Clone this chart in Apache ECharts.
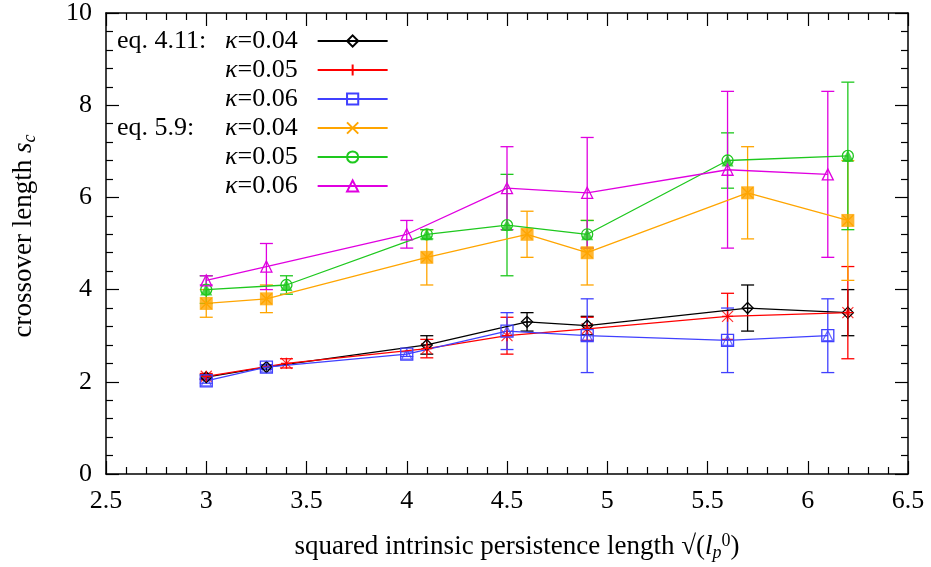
<!DOCTYPE html>
<html>
<head>
<meta charset="utf-8">
<script src="https://cdn.jsdelivr.net/npm/echarts@6/dist/echarts.min.js"></script>
<style>
html,body{margin:0;padding:0;background:#fff;}
#chart{width:931px;height:567px;}
</style>
</head>
<body>
<div id="chart"></div>
<script>
// ---- data ----
const xK04 = [3.0, 3.3, 4.1, 4.6, 4.9, 5.7, 6.2];
const xK05 = [3.0, 3.4, 4.1, 4.5, 4.9, 5.6, 6.2];
const xK06 = [3.0, 3.3, 4.0, 4.5, 4.9, 5.6, 6.1];

const eq411K04 = [2.1, 2.32, 2.8, 3.3, 3.22, 3.6, 3.5];
const eq411K04Err = [0.05, 0.05, 0.2, 0.2, 0.2, 0.5, 0.5];
const eq411K05 = [2.12, 2.4, 2.72, 3.0, 3.15, 3.42, 3.5];
const eq411K05Err = [0.06, 0.1, 0.2, 0.4, 0.25, 0.5, 1.0];
const eq411K06 = [2.02, 2.32, 2.6, 3.1, 3.0, 2.9, 3.0];
const eq411K06Err = [0.05, 0.05, 0.05, 0.4, 0.8, 0.7, 0.8];

const eq59K04 = [3.7, 3.8, 4.7, 5.2, 4.8, 6.1, 5.5];
const eq59K04Err = [0.3, 0.3, 0.6, 0.5, 0.7, 1.0, 1.3];
const eq59K05 = [4.0, 4.1, 5.2, 5.4, 5.2, 6.8, 6.9];
const eq59K05Err = [0.3, 0.2, 0.1, 1.1, 0.3, 0.6, 1.6];
const eq59K06 = [4.2, 4.5, 5.2, 6.2, 6.1, 6.6, 6.5];
const eq59K06Err = [0.1, 0.5, 0.3, 0.9, 1.2, 1.7, 1.8];

const legendPrefix = ['eq. 4.11:', '', '', 'eq. 5.9:', '', ''];
const legendKappa = ['0.04', '0.05', '0.06', '0.04', '0.05', '0.06'];

// ---- styling ----
const FF = '"Liberation Serif", "DejaVu Serif", serif';
const FS = 26;
const PLUS = 'path://M0,5L10,5M5,0L5,10';
const CROSS = 'path://M0,0L10,10M10,0L0,10';

const sets = [
  {id:'s1', x:xK04, y:eq411K04, e:eq411K04Err, color:'#000000', sym:'diamond', size:11, sym2:PLUS, size2:9, fill2:false},
  {id:'s2', x:xK05, y:eq411K05, e:eq411K05Err, color:'#ff0000', sym:PLUS, size:11, sym2:CROSS, size2:11, fill2:false},
  {id:'s3', x:xK06, y:eq411K06, e:eq411K06Err, color:'#4040ff', sym:'rect', size:12, sym2:'triangle', size2:10, fill2:false},
  {id:'s4', x:xK04, y:eq59K04, e:eq59K04Err, color:'#ffa500', sym:CROSS, size:11, sym2:'rect', size2:13, fill2:true},
  {id:'s5', x:xK05, y:eq59K05, e:eq59K05Err, color:'#1ec81e', sym:'circle', size:11, sym2:'triangle', size2:12, fill2:true},
  {id:'s6', x:xK06, y:eq59K06, e:eq59K06Err, color:'#e000e0', sym:'triangle', size:11, sym2:null, size2:0, fill2:false}
];

const series = [];
sets.forEach(function (s, i) {
  const pts = s.x.map(function (xv, k) { return [xv, s.y[k]]; });
  const errs = s.x.map(function (xv, k) { return [xv, s.y[k], s.e[k]]; });
  const c = s.color;
  series.push({
    type: 'custom', silent: true, clip: false, z: 2,
    data: errs, encode: {x: 0, y: 1},
    renderItem: function (params, api) {
      const xv = api.value(0), yv = api.value(1), ev = api.value(2);
      const t = api.coord([xv, yv + ev]);
      const b = api.coord([xv, yv - ev]);
      const w = 6.5;
      const st = {stroke: c, lineWidth: 1.3, fill: null};
      return {type: 'group', children: [
        {type: 'line', shape: {x1: t[0], y1: t[1], x2: b[0], y2: b[1]}, style: st},
        {type: 'line', shape: {x1: t[0] - w, y1: t[1], x2: t[0] + w, y2: t[1]}, style: st},
        {type: 'line', shape: {x1: b[0] - w, y1: b[1], x2: b[0] + w, y2: b[1]}, style: st}
      ]};
    }
  });
  series.push({
    type: 'line', name: s.id, data: pts, silent: true,
    symbol: s.sym, symbolSize: s.size, showAllSymbol: true,
    lineStyle: {color: c, width: 1.3},
    itemStyle: {color: 'rgba(255,255,255,0)', borderColor: c, borderWidth: 1.3},
    animation: false
  });
  if (s.sym2) {
    series.push({
      type: 'scatter', data: pts, silent: true,
      symbol: s.sym2, symbolSize: s.size2,
      itemStyle: s.fill2 ? {color: c, borderWidth: 0} : {color: 'rgba(255,255,255,0)', borderColor: c, borderWidth: 1.2},
      animation: false
    });
  }
});

const axisCommon = {
  type: 'value',
  axisLine: {show: true, onZero: false, lineStyle: {color: '#000', width: 1.5}},
  axisTick: {show: true, inside: true, length: 13, lineStyle: {color: '#000', width: 1.2}},
  minorTick: {show: true, splitNumber: 5, length: 7, lineStyle: {color: '#000', width: 1.2}},
  splitLine: {show: false},
  minorSplitLine: {show: false}
};
const labelStyle = {fontFamily: FF, fontSize: FS, color: '#000'};

const option = {
  animation: false,
  backgroundColor: '#fff',
  grid: {left: 106, right: 23, top: 13, bottom: 93, containLabel: false},
  xAxis: [
    Object.assign({}, axisCommon, {
      min: 2.5, max: 6.5, interval: 0.5, position: 'bottom',
      axisLabel: Object.assign({margin: 14}, labelStyle),
      name: '{t|squared intrinsic persistence length }{t|√(}{i|l}{sub|p}{sup|0}{t|)}',
      nameLocation: 'middle', nameGap: 58,
      nameTextStyle: {fontFamily: FF, fontSize: 27, color: '#000', padding: [0, 0, 0, 20], rich: {
        t: {fontFamily: FF, fontSize: 27, color: '#000', lineHeight: 30},
        i: {fontFamily: FF, fontSize: 27, fontStyle: 'italic', color: '#000', lineHeight: 30},
        sub: {fontFamily: FF, fontSize: 18, fontStyle: 'italic', color: '#000', verticalAlign: 'bottom', lineHeight: 18},
        sup: {fontFamily: FF, fontSize: 18, color: '#000', verticalAlign: 'top', lineHeight: 18}
      }}
    }),
    Object.assign({}, axisCommon, {
      min: 2.5, max: 6.5, interval: 0.5, position: 'top',
      axisLabel: {show: false}
    })
  ],
  yAxis: [
    Object.assign({}, axisCommon, {
      min: 0, max: 10, interval: 2, position: 'left',
      axisLabel: Object.assign({margin: 14}, labelStyle),
      name: '{t|crossover length }{i|s}{sub|c}',
      nameLocation: 'middle', nameGap: 67,
      nameTextStyle: {fontFamily: FF, fontSize: 27, color: '#000', padding: [0, 0, 0, 15], rich: {
        t: {fontFamily: FF, fontSize: 27, color: '#000', lineHeight: 30},
        i: {fontFamily: FF, fontSize: 27, fontStyle: 'italic', color: '#000', lineHeight: 30},
        sub: {fontFamily: FF, fontSize: 18, fontStyle: 'italic', color: '#000', verticalAlign: 'bottom', lineHeight: 18}
      }}
    }),
    Object.assign({}, axisCommon, {
      min: 0, max: 10, interval: 2, position: 'right',
      axisLabel: {show: false}
    })
  ],
  legend: {
    show: true, orient: 'vertical', left: 117, top: 28, padding: 0,
    align: 'right', itemWidth: 70, itemHeight: 14, itemGap: 3,
    selectedMode: false,
    data: sets.map(function (s) { return s.id; }),
    formatter: function (name) {
      const i = sets.findIndex(function (s) { return s.id === name; });
      const pre = legendPrefix[i] || ' ';
      return '{a|' + pre + '}{k|κ}{n|=' + legendKappa[i] + '}';
    },
    textStyle: {fontFamily: FF, fontSize: FS, color: '#000', rich: {
      a: {fontFamily: FF, fontSize: FS, color: '#000', width: 108, align: 'left', lineHeight: 20},
      k: {fontFamily: FF, fontSize: FS, fontStyle: 'italic', color: '#000', lineHeight: 20},
      n: {fontFamily: FF, fontSize: FS, color: '#000', lineHeight: 20, padding: [0, 15, 0, 0]}
    }}
  },
  series: series
};

const chart = echarts.init(document.getElementById('chart'), null, {renderer: 'canvas'});
chart.setOption(option);
</script>
</body>
</html>
